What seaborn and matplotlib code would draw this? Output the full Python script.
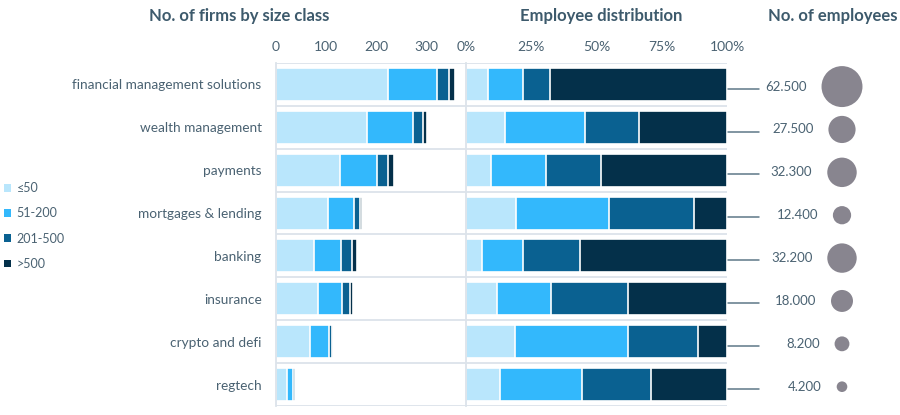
import numpy as np
import pandas as pd
import matplotlib
matplotlib.use("Agg")
import matplotlib.pyplot as plt
from matplotlib.patches import Patch
import seaborn as sns

categories = ["financial management solutions", "wealth management", "payments",
              "mortgages & lending", "banking", "insurance", "crypto and defi", "regtech"]
size_classes = ["≤50", "51-200", "201-500", ">500"]

firms_le50 = [224, 181, 127, 104, 77, 85, 68, 22]
firms_51_200 = [97, 92, 74, 51, 53, 46, 38, 13]
firms_201_500 = [23, 19, 22, 13, 21, 16, 7, 3]
firms_gt500 = [12, 9, 13, 3, 10, 7, 1, 1]

emp_le50 = [8.3, 14.8, 9.6, 19.3, 6.0, 11.9, 18.8, 13.2]
emp_51_200 = [13.4, 30.8, 21.2, 35.6, 15.7, 20.7, 43.1, 31.3]
emp_201_500 = [10.5, 20.6, 20.8, 32.3, 21.8, 29.3, 26.9, 26.5]
emp_gt500 = [67.8, 33.8, 48.4, 12.8, 56.5, 38.1, 11.2, 29.0]

employees = [62500, 27500, 32300, 12400, 32200, 18000, 8200, 4200]

firm_ticks = [0, 100, 200, 300]
pct_ticks = [0, 25, 50, 75, 100]
pct_labels = ["0%", "25%", "50%", "75%", "100%"]

colors = ["#b9e6fc", "#33b8fc", "#0a6191", "#04304a"]
TXT = "#4a6272"
HEAD = "#3d5a6c"
GRID = "#dce3ea"
BUBBLE = "#88858f"

sns.set_theme(style="white")
plt.rcParams["font.family"] = ["Lato", "DejaVu Sans"]

fig = plt.figure(figsize=(9, 4.15), dpi=100)
W, H = 900, 415
top_px, bot_px = 63, 406
def ax_rect(x0, x1):
    return [x0 / W, 1 - bot_px / H, (x1 - x0) / W, (bot_px - top_px) / H]

ax1 = fig.add_axes(ax_rect(275.5, 466))
ax2 = fig.add_axes(ax_rect(466, 727))
ax3 = fig.add_axes(ax_rect(727, 900))

firms = pd.DataFrame({"category": categories, "≤50": firms_le50, "51-200": firms_51_200,
                      "201-500": firms_201_500, ">500": firms_gt500})
emps = pd.DataFrame({"category": categories, "≤50": emp_le50, "51-200": emp_51_200,
                     "201-500": emp_201_500, ">500": emp_gt500})

def stacked(ax, df):
    cum = df[size_classes].cumsum(axis=1)
    for k in range(len(size_classes) - 1, -1, -1):
        sns.barplot(x=cum[size_classes[k]], y=df["category"], color=colors[k], orient="h",
                    saturation=1, width=0.77, edgecolor="white", linewidth=1.2,
                    errorbar=None, ax=ax)

stacked(ax1, firms)
stacked(ax2, emps)

for ax in (ax1, ax2, ax3):
    ax.set_ylim(7.5, -0.5)
    ax.set_xlabel("")
    ax.set_ylabel("")
    for s in ax.spines.values():
        s.set_visible(False)

for ax in (ax1, ax2):
    for yv in np.arange(-0.5, 8, 1.0):
        ax.axhline(yv, color=GRID, lw=1.3, zorder=0)
    ax.spines["left"].set_visible(True)
    ax.spines["left"].set_color(GRID)
    ax.spines["left"].set_linewidth(1.3)
    ax.xaxis.tick_top()
    ax.tick_params(axis="x", length=0, pad=7, labelsize=10, labelcolor=TXT)

ax1.set_xlim(0, 378)
ax1.set_xticks(firm_ticks)
ax1.tick_params(axis="y", length=0, pad=10, labelsize=9.8, labelcolor=TXT)

ax2.set_xlim(0, 100)
ax2.set_xticks(pct_ticks)
ax2.set_xticklabels(pct_labels)
ax2.set_yticks([])

# third panel: employee totals
ypos = np.arange(len(categories))
ax3.set_xlim(0, 173)
ax3.set_xticks([])
ax3.set_yticks([])
for i, v in enumerate(employees):
    ax3.plot([1, 32], [i + 0.1, i + 0.1], color="#5e7888", lw=1.1)

emp_df = pd.DataFrame({"x": np.full(len(categories), 115.0), "y": ypos + 0.05,
                       "employees": np.array(employees) / 1000})
smax = 870
sns.scatterplot(data=emp_df, x="x", y="y", size="employees", sizes=(0, smax),
                size_norm=(0, 62.5), color=BUBBLE, edgecolor="none", legend=False, ax=ax3)
ax3.set_xlabel("")
ax3.set_ylabel("")
ax3.set_ylim(7.5, -0.5)
for i, v in enumerate(employees):
    s = smax * (v / 1000) / 62.5
    r_pt = np.sqrt(s) / 2
    lab = f"{v:,}".replace(",", ".")
    ax3.annotate(lab, (115, i + 0.05), xytext=(-(r_pt + 10.8), 0), textcoords="offset points",
                 ha="right", va="center", fontsize=9.5, color=TXT)

# headers
fig.text(239.5 / W, 1 - 16 / H, "No. of firms by size class", ha="center", va="center",
         fontsize=12, fontweight="bold", color=HEAD)
fig.text(601 / W, 1 - 16 / H, "Employee distribution", ha="center", va="center",
         fontsize=12, fontweight="bold", color=HEAD)
fig.text(833 / W, 1 - 16 / H, "No. of employees", ha="center", va="center",
         fontsize=12, fontweight="bold", color=HEAD)

handles = [Patch(facecolor=c, edgecolor="none") for c in colors]
leg = fig.legend(handles, size_classes, loc="center left", bbox_to_anchor=(4 / W, 1 - 226 / H),
                 frameon=False, handlelength=0.55, handleheight=0.55, handletextpad=0.45,
                 labelspacing=1.05, fontsize=9, borderpad=0, borderaxespad=0)
for t in leg.get_texts():
    t.set_color(TXT)

fig.savefig("out.png", dpi=100)
